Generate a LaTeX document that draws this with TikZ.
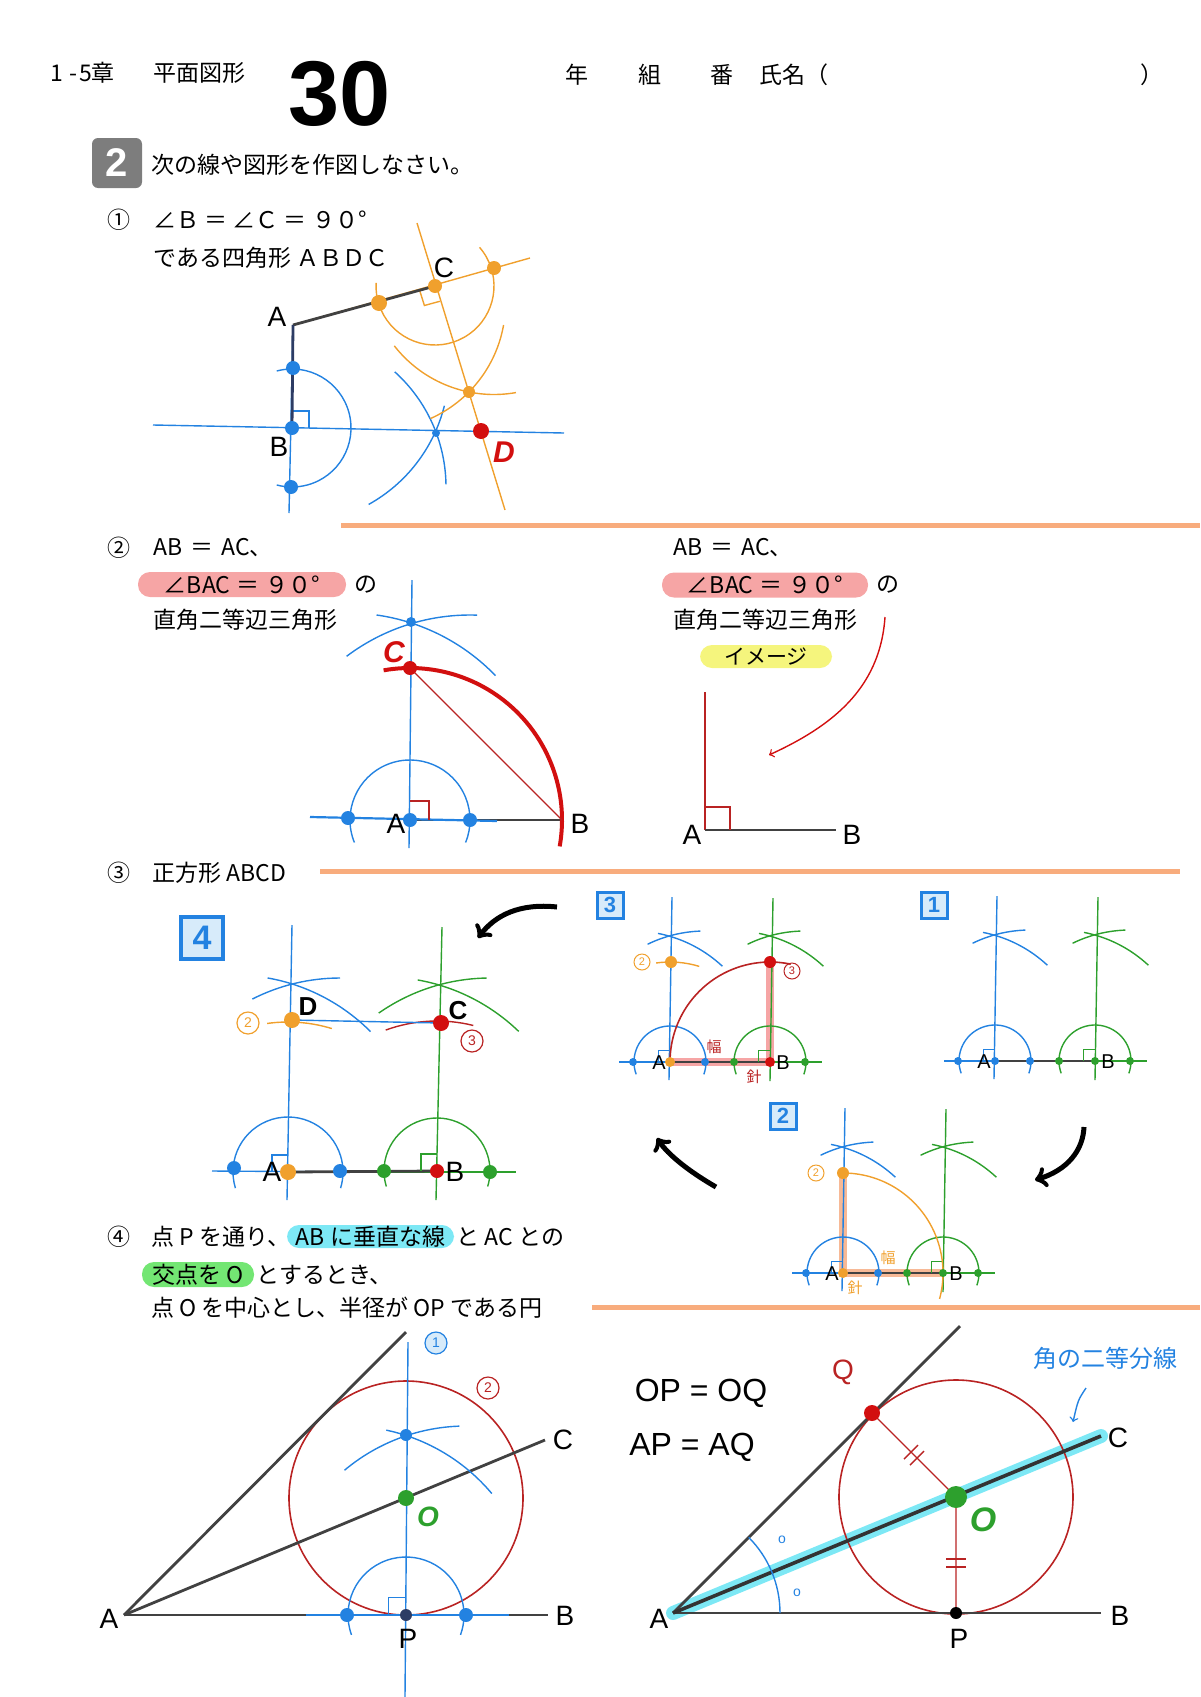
\documentclass[tikz,border=0pt]{standalone}
\usepackage{fontspec}
\setmainfont{Liberation Sans}
\newfontfamily\jp{Noto Sans CJK JP}
\usetikzlibrary{arrows,positioning}
\definecolor{cblue}{RGB}{35,130,225}
\definecolor{cbluelt}{RGB}{215,235,250}
\definecolor{cnavy}{RGB}{45,60,100}
\definecolor{cgreen}{RGB}{45,160,45}
\definecolor{corange}{RGB}{240,160,45}
\definecolor{cred}{RGB}{210,15,15}
\definecolor{cdred}{RGB}{185,35,35}
\definecolor{cgray}{RGB}{65,65,65}
\definecolor{cpeach}{RGB}{248,172,125}
\definecolor{cpink}{RGB}{246,165,165}
\definecolor{cyel}{RGB}{245,245,125}
\definecolor{ccyan}{RGB}{125,232,245}
\definecolor{cgrn}{RGB}{115,230,115}
\definecolor{cbox}{RGB}{125,125,125}
\definecolor{csalmon}{RGB}{247,185,150}
\tikzstyle{jtext}=[anchor=west, inner sep=0pt, font=\jp\fontsize{11.5}{14}\selectfont]
\tikzstyle{lbl}=[inner sep=0pt, font=\fontsize{14}{16}\selectfont]
\tikzstyle{slbl}=[inner sep=0pt, font=\fontsize{10}{12}\selectfont]
\tikzstyle{bline}=[cblue, line width=0.7pt]
\tikzstyle{gline}=[cgreen, line width=0.7pt]
\tikzstyle{oline}=[corange, line width=0.7pt]
\tikzstyle{rline}=[cdred, line width=0.7pt]
\tikzstyle{seg}=[cgray, line width=1.4pt]
\tikzstyle{sepline}=[cpeach, line width=2.5pt]
\tikzstyle{pill}=[rounded corners=6pt, inner sep=0pt, minimum height=12.5pt, font=\jp\fontsize{11.5}{14}\selectfont]
\tikzstyle{stepno}=[draw=cblue, fill=cbluelt, line width=1.5pt, minimum size=13pt, inner sep=0pt, text=cblue, font=\bfseries\fontsize{11}{11}\selectfont]
\tikzstyle{cnum}=[circle, draw, line width=0.6pt, minimum size=11pt, inner sep=0pt, font=\fontsize{7}{7}\selectfont]
\tikzstyle{scnum}=[circle, draw, line width=0.5pt, minimum size=8pt, inner sep=0pt, font=\fontsize{5.5}{6}\selectfont]
\tikzstyle{hand}=[inner sep=0pt, font=\fontsize{16}{18}\selectfont]
\tikzstyle{arrowbig}=[black, line width=2.5pt, ->]
% base of the square construction, A at (0,0), B at (100,0)
\newcommand{\sqbase}{%
  \draw[bline] (2,-165) -- (-1,18);
  \draw[gline] (103,-164) -- (100,19);
  \draw[bline] (-51,0) -- (48,0);
  \draw[gline] (48,0) -- (152,0);
  \draw[seg, line width=1.1pt] (0,0) -- (100,0);
  \draw[bline] (0,0) ++(160:36) arc[start angle=160, end angle=380, radius=36];
  \draw[gline] (100,0) ++(160:36) arc[start angle=160, end angle=380, radius=36];
  \draw[bline] (-37,0) ++(-79:131) arc[start angle=-79, end angle=-47, radius=131];
  \draw[bline] (35,0) ++(-116:131) arc[start angle=-116, end angle=-92, radius=131];
  \draw[gline] (64,0) ++(-79:131) arc[start angle=-79, end angle=-47, radius=131];
  \draw[gline] (135,0) ++(-116:131) arc[start angle=-116, end angle=-92, radius=131];
  \draw[bline, line width=0.5pt] (-12,0) |- (0,-12);
  \draw[gline, line width=0.5pt] (88,0) |- (100,-12);
  \fill[cblue] (-37,0) circle (4) (35,0) circle (4);
  \fill[cgreen] (64,0) circle (4) (135,0) circle (4);
}

\begin{document}
\begin{tikzpicture}[x=0.5pt, y=-0.5pt, >=to]
\useasboundingbox (0,0) rectangle (1200,1697);

% header
\node[jtext] (chap) at (50,73) {1\hspace{3pt}-\hspace{1pt}5章};
\node[jtext] (unit) at (153,73) {平面図形};
\node[inner sep=0pt, font=\bfseries\fontsize{46}{46}\selectfont] (num) at (340,94) {30};
\node[jtext, anchor=center] (nen) at (577,75) {年};
\node[jtext, anchor=center] (kumi) at (650,75) {組};
\node[jtext, anchor=center] (ban) at (722,75) {番};
\node[jtext] (name) at (759,75) {氏名（};
\node[jtext, anchor=center] (nameend) at (1152,75) {）};
\node[fill=cbox, rounded corners=3pt, minimum size=25pt, inner sep=0pt, text=white, font=\bfseries\fontsize{20}{20}\selectfont] (q2) at (117,163) {2};
\node[jtext] (task) at (151,165) {次の線や図形を作図しなさい。};

% (1) quadrilateral ABDC
\node[jtext] (n1) at (107,220) {①};
\node[jtext] (q1a) at (153,220) {∠Ｂ ＝ ∠Ｃ ＝ ９０°};
\node[jtext] (q1b) at (153,258) {である四角形 ＡＢＤＣ};
\coordinate (A1) at (293,325);
\coordinate (B1) at (292,428);
\coordinate (C1) at (435,286);
\coordinate (D1) at (481,431);
\coordinate (b1t) at (293,368);
\coordinate (b1b) at (291,487);
\coordinate (h1l) at (153,425);
\coordinate (h1r) at (564,433);
\coordinate (v1b) at (289,513);
\coordinate (X1) at (436,433);
\coordinate (o1t) at (417,223);
\coordinate (o1b) at (505,510);
\coordinate (o1r) at (530,258);
\coordinate (od1) at (379,303);
\coordinate (od2) at (494,268);
\coordinate (OX1) at (469,392);
\draw[bline] (h1l) -- (h1r);
\draw[bline] (A1) -- (v1b);
\draw[bline] (B1) ++(-105:59) arc[start angle=-105, end angle=105, radius=59];
\draw[bline] (b1b) ++(-48:155) arc[start angle=-48, end angle=-1, radius=155];
\draw[bline] (b1t) ++(14:156) arc[start angle=14, end angle=61, radius=156];
\draw[bline] (B1) ++(0,-17) -- ++(17,0) -- ++(0,17);
\draw[oline] (o1t) -- (o1b);
\draw[oline] (A1) -- (o1r);
\draw[oline] (C1) ++(-41:59) arc[start angle=-41, end angle=183, radius=59];
\draw[oline] (od2) ++(80:126.5) arc[start angle=80, end angle=142, radius=126.5];
\draw[oline] (od1) ++(10:126.5) arc[start angle=10, end angle=66, radius=126.5];
\draw[oline] (419.6,290.2) -- (424.4,305.5) -- (439.8,301.3);
\draw[seg] (A1) -- (C1);
\draw[seg, cnavy] (A1) -- (B1);
\fill[cblue] (b1t) circle (7) (B1) circle (7) (b1b) circle (7) (X1) circle (4);
\fill[corange] (od1) circle (8) (C1) circle (7) (od2) circle (7) (OX1) circle (6);
\fill[cred] (D1) circle (8);
\node[lbl] (lA1) at (277,317) {A};
\node[lbl] (lB1) at (279,447) {B};
\node[lbl] (lC1) at (444,268) {C};
\node[lbl, cred, font=\bfseries\itshape\fontsize{15}{15}\selectfont] (lD1) at (504,452) {D};
\coordinate (s1l) at (341,525);
\coordinate (s1r) at (1200,525);
\draw[sepline] (s1l) -- (s1r);

% (2) right isosceles triangle
\node[jtext] (n2) at (107,548) {②};
\node[jtext] (q2a) at (153,548) {AB\hspace{4pt}＝\hspace{4pt}AC、};
\node[pill, fill=cpink, minimum width=104pt] (q2b) at (242,584.5) {∠BAC\hspace{3pt}＝\hspace{3pt}９０°};
\node[jtext, right=4pt of q2b] (q2no) {の};
\node[jtext] (q2c) at (153,620) {直角二等辺三角形};
\coordinate (A2) at (410,820);
\coordinate (B2) at (562,820);
\coordinate (C2) at (410,668);
\coordinate (v2t) at (412,580);
\coordinate (v2b) at (409,848);
\coordinate (h2l) at (310,817);
\coordinate (h2r) at (497,821);
\coordinate (d2l) at (348,818);
\coordinate (d2r) at (470,820);
\coordinate (X2) at (411,622);
\draw[bline] (v2t) -- (v2b);
\draw[bline] (A2) ++(158:60) arc[start angle=158, end angle=382, radius=60];
\draw[bline] (d2r) ++(-127:205) arc[start angle=-127, end angle=-88, radius=205];
\draw[bline] (d2l) ++(-82:205) arc[start angle=-82, end angle=-44, radius=205];
\draw[seg] (A2) -- (B2);
\draw[bline, line width=1.1pt] (h2l) -- (h2r);
\draw[cred, line width=2pt] (A2) ++(-100:152) arc[start angle=-100, end angle=10, radius=152];
\draw[rline] (C2) -- (B2);
\draw[rline] (A2) ++(0,-19) -- ++(19,0) -- ++(0,19);
\fill[cblue] (d2l) circle (7) (A2) circle (7) (d2r) circle (7) (X2) circle (5);
\fill[cred] (C2) circle (7);
\node[lbl] (lA2) at (396,824) {A};
\node[lbl] (lB2) at (580,824) {B};
\node[lbl, cred, font=\bfseries\itshape\fontsize{15}{15}\selectfont] (lC2) at (394,652) {C};

\node[jtext] (r2a) at (673,548) {AB\hspace{4pt}＝\hspace{4pt}AC、};
\node[pill, fill=cpink, minimum width=103pt] (r2b) at (765,585) {∠BAC\hspace{3pt}＝\hspace{3pt}９０°};
\node[jtext, right=4pt of r2b] (r2no) {の};
\node[jtext] (r2c) at (673,620) {直角二等辺三角形};
\node[pill, fill=cyel, minimum width=66pt, minimum height=11.5pt, font=\jp\fontsize{10.5}{12}\selectfont] (img) at (766,656.5) {イメージ};
\coordinate (ar2s) at (885,617);
\coordinate (ar2e) at (769,755);
\draw[cred, line width=0.7pt, ->] (ar2s) .. controls (880,690) and (830,727) .. (ar2e);
\coordinate (A3) at (705,830);
\coordinate (B3) at (836,830);
\coordinate (T3) at (705,692);
\draw[rline] (T3) -- (A3);
\draw[seg] (A3) -- (B3);
\draw[rline] (A3) ++(0,-23) -- ++(25,0) -- ++(0,23);
\node[lbl] (lA3) at (692,835) {A};
\node[lbl] (lB3) at (852,835) {B};
\coordinate (s2l) at (320,871);
\coordinate (s2r) at (1180,871);
\draw[sepline] (s2l) -- (s2r);

% (3) square ABCD
\node[jtext] (n3) at (107,873) {③};
\node[jtext] (q3) at (152,873) {正方形 ABCD};

% step 4
\coordinate (A4) at (288,1172);
\coordinate (B4) at (437,1171);
\coordinate (D4) at (292,1020);
\coordinate (C4) at (441,1023);
\node[stepno, minimum size=21pt, line width=2pt, font=\bfseries\fontsize{17}{17}\selectfont] (st4) at (202,938) {4};
\draw[bline] (292,925) -- (287,1200);
\draw[gline] (442,927) -- (436,1200);
\draw[bline] (212,1171) -- (363,1172);
\draw[gline] (363,1172) -- (516,1172);
\draw[seg] (A4) -- (B4);
\draw[bline] (A4) ++(163:55) arc[start angle=163, end angle=377, radius=55];
\draw[gline] (B4) ++(163:53) arc[start angle=163, end angle=377, radius=53];
\draw[bline] (234,1168) ++(-80:193) arc[start angle=-80, end angle=-45, radius=193];
\draw[bline] (340,1171) ++(-117:193) arc[start angle=-117, end angle=-90, radius=193];
\draw[gline] (384,1171) ++(-80:194) arc[start angle=-80, end angle=-46, radius=194];
\draw[gline] (490,1172) ++(-125:194) arc[start angle=-125, end angle=-91, radius=194];
\draw[oline] (A4) ++(-98:150) arc[start angle=-98, end angle=-73, radius=150];
\draw[rline] (B4) ++(-110:150) arc[start angle=-110, end angle=-76, radius=150];
\draw[bline] (D4) -- (C4);
\draw[bline] (A4) ++(-16,0) |- ++(16,-17);
\draw[gline] (B4) ++(-16,0) |- ++(16,-17);
\fill[cblue] (234,1168) circle (7) (340,1171) circle (7);
\fill[cgreen] (384,1171) circle (7) (490,1172) circle (7);
\fill[corange] (A4) circle (8) (D4) circle (8);
\fill[cred] (B4) circle (7) (C4) circle (8);
\node[lbl] (lA4) at (272,1172) {A};
\node[lbl] (lB4) at (455,1172) {B};
\node[inner sep=0pt, font=\bfseries\fontsize{13}{13}\selectfont] (lD4) at (308,1007) {D};
\node[inner sep=0pt, font=\bfseries\fontsize{13}{13}\selectfont] (lC4) at (458,1011) {C};
\node[cnum, corange] (c4n2) at (248,1023) {2};
\node[cnum, cdred] (c4n3) at (472,1041) {3};
\coordinate (a34s) at (557,907);
\coordinate (a34e) at (478,938);
\draw[arrowbig] (a34s) .. controls (520,903) and (495,915) .. (a34e);

% step 3
\begin{scope}[shift={(670,1062)}]
  \draw[cpink, line width=4pt] (0,0) -- (100,0) -- (100,-100);
  \sqbase
  \draw[cdred, line width=0.8pt] (0,0) arc[start angle=180, end angle=282, radius=100];
  \draw[oline] (0,0) ++(-98:100) arc[start angle=-98, end angle=-73, radius=100];
  \fill[corange] (0,0) circle (5) (1,-100) circle (6);
  \fill[cred] (100,0) circle (5) (100,-100) circle (6);
  \node[slbl] (lA5) at (-11,1) {A};
  \node[slbl] (lB5) at (113,1) {B};
  \node[scnum, corange] (p3n2) at (-28,-100) {2};
  \node[scnum, cdred] (p3n3) at (122,-91) {3};
  \node[inner sep=0pt, cdred, font=\jp\fontsize{7.5}{8}\selectfont] (p3w) at (44,-15) {幅};
  \node[inner sep=0pt, cdred, font=\jp\fontsize{7.5}{8}\selectfont] (p3h) at (84,15) {針};
  \node[stepno] (st3) at (-60,-157) {3};
\end{scope}

% step 1
\begin{scope}[shift={(995,1061)}]
  \sqbase
  \fill[cblue] (0,0) circle (4);
  \fill[cgreen] (100,0) circle (4);
  \node[slbl] (lA6) at (-11,1) {A};
  \node[slbl] (lB6) at (113,1) {B};
  \node[stepno] (st1) at (-61,-156) {1};
\end{scope}
\coordinate (a12s) at (1084,1127);
\coordinate (a12e) at (1035,1180);
\draw[arrowbig] (a12s) .. controls (1083,1150) and (1068,1170) .. (a12e);

% step 2
\begin{scope}[shift={(843,1273)}]
  \draw[csalmon, line width=4pt] (0,-100) -- (0,0) -- (100,0);
  \sqbase
  \draw[oline] (0,0) ++(-90:100) arc[start angle=-90, end angle=15, radius=100];
  \fill[corange] (0,0) circle (5) (0,-100) circle (6);
  \fill[cgreen] (100,0) circle (4);
  \node[slbl] (lA7) at (-11,1) {A};
  \node[slbl] (lB7) at (113,1) {B};
  \node[scnum, corange] (p2n2) at (-27,-100) {2};
  \node[inner sep=0pt, corange, font=\jp\fontsize{7.5}{8}\selectfont] (p2w) at (45,-15) {幅};
  \node[inner sep=0pt, corange, font=\jp\fontsize{7.5}{8}\selectfont] (p2h) at (12,15) {針};
  \node[stepno] (st2) at (-60,-157) {2};
\end{scope}
\coordinate (a23s) at (716,1187);
\coordinate (a23e) at (657,1138);
\draw[arrowbig] (a23s) .. controls (690,1172) and (668,1155) .. (a23e);

% (4) circle centred at O
\node[jtext] (n4) at (107,1237) {④};
\node[jtext] (q4a) at (151,1237) {点 P を通り、};
\node[pill, fill=ccyan, minimum width=83.5pt, minimum height=11.5pt] (q4b) at (370.5,1236.5) {AB に垂直な線};
\node[jtext, right=1pt of q4b] (q4c) {と AC との};
\node[pill, fill=cgrn, minimum width=56pt] (q4d) at (198,1274.5) {交点を O};
\node[jtext, right=1pt of q4d] (q4e) {とするとき、};
\node[jtext] (q4f) at (151,1308) {点 O を中心とし、半径が OP である円};
\coordinate (s3l) at (592,1307);
\coordinate (s3r) at (1200,1307);
\draw[sepline] (s3l) -- (s3r);

\coordinate (A5) at (124,1615);
\coordinate (B5) at (548,1615);
\coordinate (C5) at (545,1440);
\coordinate (R5) at (406,1332);
\coordinate (P5) at (406,1615);
\coordinate (O5) at (406,1498);
\coordinate (X5) at (406,1435);
\coordinate (d5l) at (347,1615);
\coordinate (d5r) at (466,1615);
\coordinate (v5t) at (408,1342);
\coordinate (v5b) at (405,1697);
\coordinate (h5l) at (306,1615);
\coordinate (h5r) at (509,1615);
\draw[cdred, line width=0.8pt] (O5) circle (117);
\draw[seg] (A5) -- (R5);
\draw[seg] (A5) -- (C5);
\draw[seg] (A5) -- (B5);
\draw[bline] (v5t) -- (v5b);
\draw[bline, line width=1.2pt] (h5l) -- (h5r);
\draw[bline] (P5) ++(160:58) arc[start angle=160, end angle=380, radius=58];
\draw[bline] (d5r) ++(-130:189) arc[start angle=-130, end angle=-92, radius=189];
\draw[bline] (d5l) ++(-78:189) arc[start angle=-78, end angle=-40, radius=189];
\draw[bline, line width=0.5pt] (P5) ++(-18,0) |- ++(18,-18);
\fill[cblue] (d5l) circle (7) (d5r) circle (7) (X5) circle (6);
\fill[cnavy] (P5) circle (6);
\fill[cgreen] (O5) circle (8);
\node[lbl] (lA8) at (109,1619) {A};
\node[lbl] (lB8) at (565,1616) {B};
\node[lbl] (lC8) at (563,1440) {C};
\node[lbl] (lP8) at (408,1639) {P};
\node[inner sep=0pt, cgreen, font=\bfseries\itshape\fontsize{14}{14}\selectfont] (lO8) at (428,1517) {O};
\node[cnum, cblue, fill=cbluelt] (c5n1) at (436,1343) {1};
\node[cnum, cdred] (c5n2) at (488,1388) {2};

\coordinate (A6) at (673,1613);
\coordinate (B6) at (1101,1613);
\coordinate (C6) at (1101,1436);
\coordinate (R6) at (960,1326);
\coordinate (O6) at (956,1497);
\coordinate (P6) at (956,1613);
\coordinate (Q6) at (872,1413);
\draw[ccyan, line width=7pt, line cap=round] (A6) -- (C6);
\draw[cdred, line width=0.8pt] (O6) circle (117);
\draw[seg] (A6) -- (R6);
\draw[seg] (A6) -- (B6);
\draw[seg, line width=1.8pt, black!80] (A6) -- (C6);
\draw[rline] (Q6) -- (O6) -- (P6);
\draw[rline] (904,1459) -- (918,1445) (910,1465) -- (924,1451);
\draw[rline] (946,1559) -- (966,1559) (946,1567) -- (966,1567);
\draw[bline] (A6) ++(-45:107) arc[start angle=-45, end angle=0, radius=107];
\fill[cred] (Q6) circle (8);
\fill[black] (P6) circle (6);
\fill[cgreen] (O6) circle (11);
\node[inner sep=0pt, cblue, font=\fontsize{7}{7}\selectfont] (ang1) at (782,1540) {o};
\node[inner sep=0pt, cblue, font=\fontsize{7}{7}\selectfont] (ang2) at (797,1593) {o};
\node[lbl] (lA9) at (659,1619) {A};
\node[lbl] (lB9) at (1120,1616) {B};
\node[lbl] (lC9) at (1118,1438) {C};
\node[lbl] (lP9) at (959,1639) {P};
\node[inner sep=0pt, cgreen, font=\bfseries\itshape\fontsize{17}{17}\selectfont] (lO9) at (983,1520) {O};
\node[inner sep=0pt, cdred, font=\fontsize{14}{14}\selectfont] (lQ9) at (843,1372) {Q};
\node[hand] (eq1) at (701,1393) {OP = OQ};
\node[hand] (eq2) at (692,1447) {AP = AQ};
\node[inner sep=0pt, cblue, font=\jp\fontsize{12}{12}\selectfont] (bis) at (1105,1358) {角の二等分線};
\coordinate (ab1) at (1086,1388);
\coordinate (ab2) at (1073,1422);
\draw[bline, ->] (ab1) .. controls (1078,1400) .. (ab2);
\end{tikzpicture}
\end{document}
